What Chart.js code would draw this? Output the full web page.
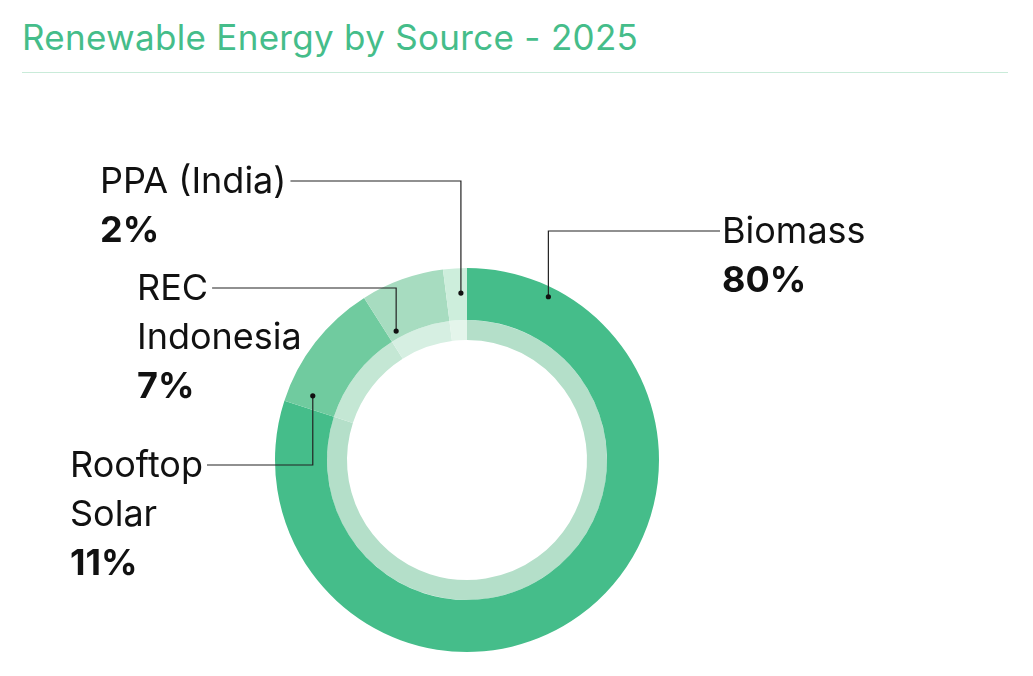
<!DOCTYPE html>
<html><head><meta charset="utf-8">
<script src="https://cdn.jsdelivr.net/npm/chart.js@4"></script>
<style>
html,body{margin:0;padding:0;background:#fff;}
#wrap{position:relative;width:1033px;height:676px;}
#title{position:absolute;left:22px;top:16px;font-family:Inter,"Noto Sans",sans-serif;font-size:35px;color:#45bd8a;letter-spacing:0.3px;}
#rule{position:absolute;left:22px;top:72px;width:986px;height:1px;background:#c9ebd9;}
canvas{position:absolute;left:0;top:0;}
</style></head><body>
<div id="wrap"><div id="title">Renewable Energy by Source - 2025</div><div id="rule"></div>
<canvas id="c" width="1033" height="676"></canvas></div>
<script>
const categories = ["Biomass","Rooftop Solar","REC Indonesia","PPA (India)"];
const values = [80, 11, 7, 2];
const labelLines = [["Biomass"],["Rooftop","Solar"],["REC","Indonesia"],["PPA (India)"]];
const percentLabels = ["80%","11%","7%","2%"];
const outerColors = ["#45bd8a","#70cb9f","#a7dcc0","#cdeedc"];
const innerColors = ["#b4dfc9","#c4e7d4","#d6efe2","#e4f5eb"];

// layout of annotations (text anchor, leader position within segment)
const notes = [
  {tx:722, ty:243, side:"right", frac:0.092, rf:0.95},
  {tx:70,  ty:477, side:"left",  frac:0.116, rf:0.87},
  {tx:137, ty:300, side:"left",  frac:0.143, rf:0.766},
  {tx:100, ty:193, side:"left",  frac:0.71,  rf:0.87}
];

const leaderPlugin = {
  id:'leaders',
  afterDraw(chart){
    const ctx = chart.ctx;
    const arcs = chart.getDatasetMeta(0).data;
    ctx.save();
    ctx.textBaseline = 'alphabetic';
    notes.forEach((n,i)=>{
      const a = arcs[i];
      const ang = a.startAngle + (a.endAngle - a.startAngle)*n.frac;
      const r = a.outerRadius*n.rf;
      const dx = a.x + Math.cos(ang)*r, dy = a.y + Math.sin(ang)*r;
      const lines = labelLines[i];
      ctx.font = '36px Inter, "Noto Sans", sans-serif';
      const firstW = ctx.measureText(lines[0]).width;
      const ly = n.ty - 12;
      let lx = n.side==='right' ? n.tx - 2 : n.tx + firstW + 4;
      // leader
      ctx.strokeStyle = '#222'; ctx.lineWidth = 1.2;
      ctx.beginPath(); ctx.moveTo(lx, ly); ctx.lineTo(dx, ly); ctx.lineTo(dx, dy); ctx.stroke();
      ctx.fillStyle = '#111';
      ctx.beginPath(); ctx.arc(dx, dy, 2.6, 0, Math.PI*2); ctx.fill();
      // text
      ctx.fillStyle = '#111';
      lines.forEach((t,k)=>{ ctx.fillText(t, n.tx, n.ty + k*49); });
      ctx.font = 'bold 36px Inter, "Noto Sans", sans-serif';
      ctx.fillText(percentLabels[i], n.tx, n.ty + lines.length*49);
    });
    ctx.restore();
  }
};

new Chart(document.getElementById('c'), {
  type:'doughnut',
  data:{labels:categories, datasets:[
    {data:values, backgroundColor:outerColors, borderWidth:0, weight:52},
    {data:values, backgroundColor:innerColors, borderWidth:0, weight:20}
  ]},
  options:{
    responsive:false, animation:false, cutout:'62.5%',
    layout:{padding:{top:268,bottom:24,left:0,right:99}},
    plugins:{legend:{display:false}, tooltip:{enabled:false}}
  },
  plugins:[leaderPlugin]
});
</script></body></html>
